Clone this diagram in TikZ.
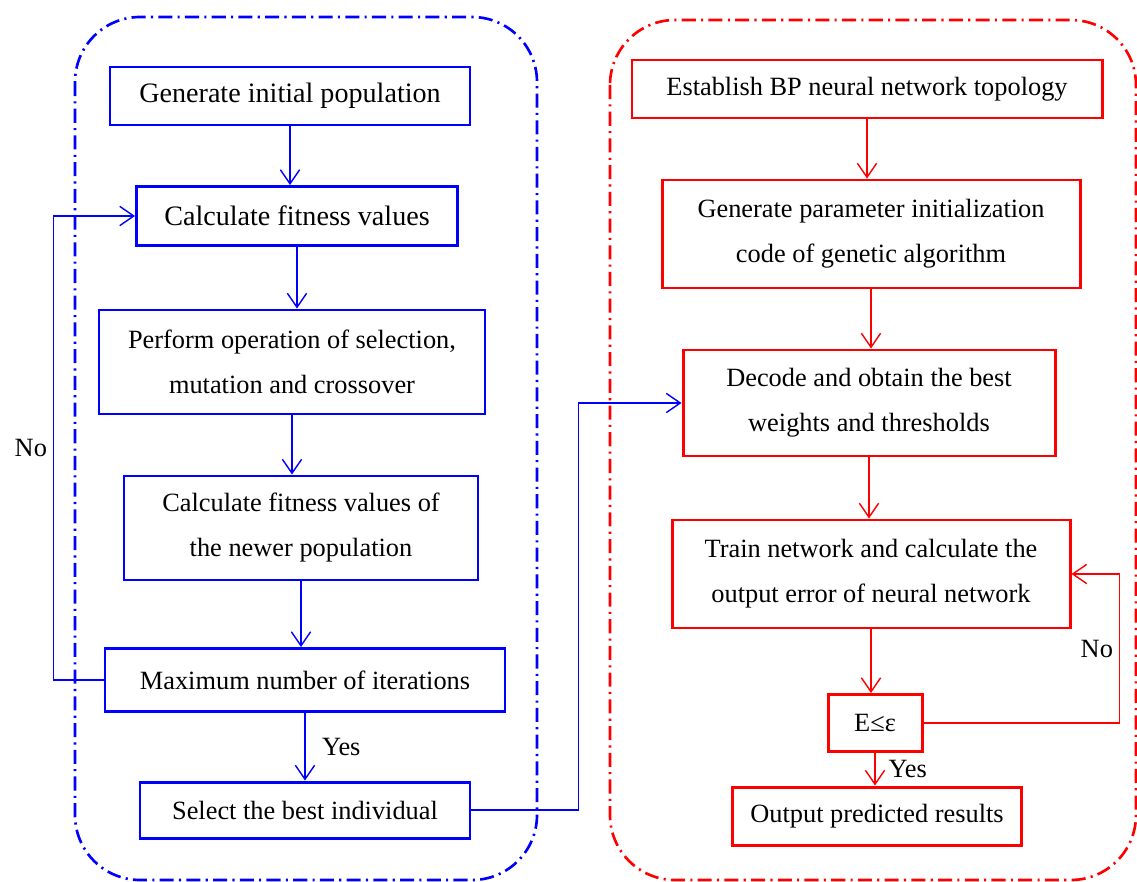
\documentclass[tikz,border=0pt]{standalone}
\usepackage{fontspec}
\setmainfont{Liberation Serif}
\usepackage{xcolor}
\usepackage{tikz}
\usetikzlibrary{arrows.meta}
\tikzstyle{gabox} = [rectangle, text centered, align=center, draw=blue, line width=1.7pt, font=\fontsize{15pt}{25.6pt}\selectfont]
\tikzstyle{bpbox} = [rectangle, text centered, align=center, draw=red, line width=1.7pt, font=\fontsize{15pt}{25.6pt}\selectfont]
\tikzstyle{gaarrow} = [blue, line width=0.8pt, -{Straight Barb[length=8pt,width=11pt]}]
\tikzstyle{bparrow} = [red, line width=0.8pt, -{Straight Barb[length=8pt,width=11pt]}]
\tikzstyle{gaframe} = [blue, line width=1.5pt, rounded corners=1.3cm, dash pattern=on 8pt off 3pt on 1.2pt off 3pt]
\tikzstyle{bpframe} = [red, line width=1.5pt, rounded corners=1.3cm, dash pattern=on 8pt off 3pt on 1.2pt off 3pt]
\tikzstyle{lbl} = [font=\fontsize{15pt}{18pt}\selectfont, text=black]

\begin{document}
\begin{tikzpicture}[node distance=2.6cm]

    \useasboundingbox (0,0) rectangle (22.74,-17.64);

    % Frames
    \draw [gaframe] (1.5,-0.34) rectangle (10.74,-17.6);
    \draw [bpframe] (12.2,-0.4) rectangle (22.72,-17.6);

    % Nodes (genetic algorithm)
    \node (gen) [gabox, font=\fontsize{16pt}{25.6pt}\selectfont, minimum width=7.2cm, minimum height=1.16cm] at (5.8,-1.92) {Generate initial population};
    \node (fit) [gabox, font=\fontsize{16pt}{25.6pt}\selectfont, minimum width=6.42cm, minimum height=1.18cm, below of=gen, xshift=0.14cm, yshift=0.2cm] {Calculate fitness values};
    \node (oper) [gabox, minimum width=7.72cm, minimum height=2.08cm, below of=fit, xshift=-0.1cm, yshift=-0.32cm] {Perform operation of selection,\\ mutation and crossover};
    \node (newfit) [gabox, minimum width=7.08cm, minimum height=2.08cm, below of=oper, xshift=0.18cm, yshift=-0.72cm] {Calculate fitness values of\\ the newer population};
    \node (maxit) [gabox, minimum width=8cm, minimum height=1.26cm, below of=newfit, xshift=0.08cm, yshift=-0.44cm] {Maximum number of iterations};
    \node (best) [gabox, minimum width=6.6cm, minimum height=1.12cm, below of=maxit] {Select the best individual};

    % Nodes (BP network)
    \node (topo) [bpbox, minimum width=9.4cm, minimum height=1.16cm] at (17.34,-1.78) {Establish BP neural network topology};
    \node (init) [bpbox, minimum width=8.36cm, minimum height=2.16cm, below of=topo, xshift=0.08cm, yshift=-0.3cm] {Generate parameter initialization\\ code of genetic algorithm};
    \node (decode) [bpbox, minimum width=7.44cm, minimum height=2.12cm, below of=init, xshift=-0.04cm, yshift=-0.78cm] {Decode and obtain the best\\ weights and thresholds};
    \node (train) [bpbox, minimum width=7.96cm, minimum height=2.16cm, below of=decode, xshift=0.04cm, yshift=-0.82cm] {Train network and calculate the\\ output error of neural network};
    \node (err) [bpbox, minimum width=1.88cm, minimum height=1.14cm, below of=train, xshift=0.08cm, yshift=-0.38cm] {E≤ε};
    \node (out) [bpbox, minimum width=5.78cm, minimum height=1.16cm, below of=err, xshift=0.04cm, yshift=0.74cm] {Output predicted results};

    % Arrows
    \draw [gaarrow] (gen.south) -- (gen.south |- fit.north);
    \draw [gaarrow] (fit.south) -- (fit.south |- oper.north);
    \draw [gaarrow] (oper.south) -- (oper.south |- newfit.north);
    \draw [gaarrow] (newfit.south) -- (newfit.south |- maxit.north);
    \draw [gaarrow] (maxit.south) -- (maxit.south |- best.north) node[lbl, midway, right, xshift=6pt] {Yes};
    \draw [gaarrow] (maxit.west) -- ++(-1cm,0) |- (fit.west) node[lbl, pos=0.25, left] {No};
    \draw [gaarrow] (best.east) -- ++(2.14cm,0) |- (decode.west);

    \draw [bparrow] (topo.south) -- (topo.south |- init.north);
    \draw [bparrow] (init.south) -- (init.south |- decode.north);
    \draw [bparrow] (decode.south) -- (decode.south |- train.north);
    \draw [bparrow] (train.south) -- (train.south |- err.north);
    \draw [bparrow] (err.south) -- (err.south |- out.north) node[lbl, midway, right, xshift=4pt] {Yes};
    \draw [bparrow] (err.east) -- ++(3.92cm,0) |- (train.east) node[lbl, pos=0.25, left] {No};

\end{tikzpicture}
\end{document}
